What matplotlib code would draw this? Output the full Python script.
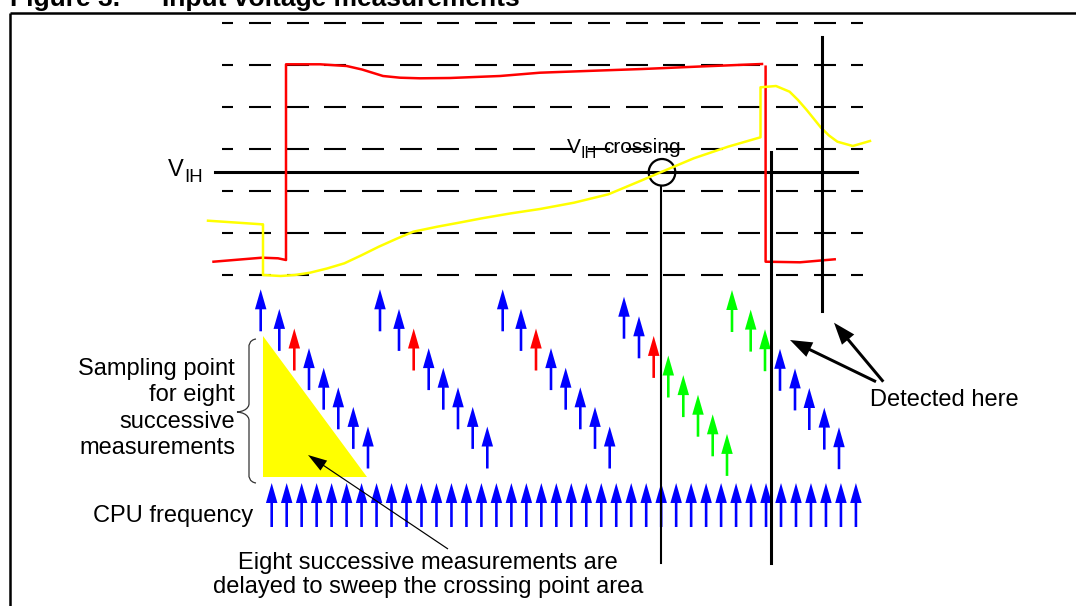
import matplotlib
matplotlib.use('Agg')
import matplotlib.pyplot as plt
import matplotlib.patches as patches
from matplotlib.path import Path
import numpy as np

plt.rcParams['font.family'] = ['Liberation Sans', 'DejaVu Sans']

# level grid (dashed) and the V_IH threshold, in picture pixels
grid_levels = [23, 65, 107, 149, 191, 233, 275]
vih_level = 171.5

# red signal (clean input) and yellow signal (slow input)
red_x = [213.5, 240, 262, 278, 286, 286, 320, 346.7, 362, 383, 400, 420, 450, 500,
         540, 600, 642.6, 700, 762]
red_y = [261.7, 259.5, 257.7, 258.3, 260, 64.3, 64.3, 66, 69.5, 76, 77.7, 78.3, 78,
         76, 72.7, 70.5, 69, 66.5, 64]
red2_x = [765.6, 765.6, 800, 834.7]
red2_y = [66.7, 261.7, 262.3, 259.3]

yel_x = [208, 235, 261.7, 263, 263, 280.6, 295, 310, 327, 344.4, 361, 378.8, 396,
         413.2, 437.3, 460, 482, 510, 540, 574, 608.4, 642.6, 662, 693.8, 728,
         760.5, 760.5, 776, 789.6, 798, 806.7, 814, 821, 829, 837.4, 852.8, 870]
yel_y = [220.7, 222.5, 224.3, 224.3, 275, 276, 275, 272.7, 268.5, 263.3, 255.5,
         246.7, 239, 231.7, 226.7, 222.5, 218.3, 213.5, 209, 202.7, 194.3, 180,
         171.7, 158.3, 146.7, 137.3, 87.3, 86, 91.7, 100, 110, 119, 127.7, 135.5,
         141.7, 146, 141]

# sampling arrows: 5 groups of 8 successive measurements
group_x = [
    [260.7, 279.3, 294.3, 309, 323.7, 338.3, 353.3, 368],
    [380, 399, 413.7, 428.7, 443.3, 458, 472.7, 487.3],
    [502.7, 521, 536, 551, 565.7, 580.3, 595, 609.7],
    [624, 639, 653.7, 668.3, 683.3, 698, 712.7, 727],
    [732, 750.7, 765, 780, 795, 809.3, 824.3, 839],
]
group_top = [289.3, 289.3, 289.3, 296.7, 290]
group_col = [
    ['b', 'b', 'r', 'b', 'b', 'b', 'b', 'b'],
    ['b', 'b', 'r', 'b', 'b', 'b', 'b', 'b'],
    ['b', 'b', 'r', 'b', 'b', 'b', 'b', 'b'],
    ['b', 'b', 'r', 'g', 'g', 'g', 'g', 'g'],
    ['g', 'g', 'g', 'b', 'b', 'b', 'b', 'b'],
]
colmap = {'b': '#0000FF', 'r': '#FF0000', 'g': '#00FF00'}

# CPU clock arrows
n_clock = 40
clock_x0 = 271.7
clock_step = 14.98

left_lines = ['Sampling point', 'for eight', 'successive', 'measurements']
bottom_lines = ['Eight successive measurements are',
                'delayed to sweep the crossing point area']

fig = plt.figure(figsize=(10.76, 6.06), dpi=100)
ax = fig.add_axes([0, 0, 1, 1])
ax.set_xlim(0, 1076)
ax.set_ylim(606, 0)
ax.axis('off')

# title (cut off at top) and frame
ax.text(10, 6, 'Figure 3.', fontsize=19, fontweight='bold', va='baseline')
ax.text(162, 6, 'Input voltage measurements', fontsize=19, fontweight='bold',
        va='baseline')
ax.plot([10, 1076], [13.3, 13.3], color='k', lw=1.8, solid_capstyle='butt')
ax.plot([10, 10], [13.3, 606], color='k', lw=1.8, solid_capstyle='butt')

# dashed grid
starts = np.arange(249 - 37.65, 870, 37.65)
for yv in grid_levels:
    for s in starts:
        a, b = max(s, 222), min(s + 22, 863)
        if b > a:
            ax.plot([a, b], [yv, yv], color='k', lw=1.5, solid_capstyle='butt')

ax.plot([215, 857], [vih_level, vih_level], color='k', lw=2.2)
ax.text(168, 176, 'V', fontsize=17, va='baseline')
ax.text(184.5, 181.7, 'IH', fontsize=13.4, va='baseline')

# signals
ax.plot(red_x, red_y, color='#FF0000', lw=1.8)
ax.plot(red2_x, red2_y, color='#FF0000', lw=1.8)
ax.plot(yel_x, yel_y, color='#FFFF00', lw=1.8)

# crossing marker and label
ax.add_patch(patches.Circle((662, 172.3), 13.3, fill=False, ec='k', lw=1.6))
ax.text(566.7, 152.7, 'V', fontsize=15, va='baseline')
ax.text(580.5, 158.3, 'IH', fontsize=11.7, va='baseline')
ax.text(603, 152.7, 'crossing', fontsize=15, va='baseline')

# vertical markers
ax.plot([661, 661], [185.6, 563], color='k', lw=1.5)
ax.plot([771, 771], [152, 563], color='k', lw=2.2)
ax.plot([822, 822], [37, 311], color='k', lw=2.2)

# yellow triangle
ax.add_patch(patches.Polygon([(263, 336), (263, 477), (367, 477)],
                             closed=True, fc='#FFFF00', ec='none'))

# sampling arrows
alen = 42
for gx, gt, gc in zip(group_x, group_top, group_col):
    for k, (x, c) in enumerate(zip(gx, gc)):
        top = gt + 19.6 * k
        ax.arrow(x, top + alen, 0, -alen, width=2.6, head_width=11.5,
                 head_length=20, length_includes_head=True,
                 color=colmap[c], lw=0)

# CPU frequency arrows
for i in range(n_clock):
    x = clock_x0 + clock_step * i
    ax.arrow(x, 527, 0, -44, width=2.6, head_width=11.5, head_length=20,
             length_includes_head=True, color='#0000FF', lw=0)

# brace
verts = [(256, 339), (249, 340), (249, 346), (249, 346),
         (249, 404), (249, 404), (249, 411), (237, 412),
         (249, 413), (249, 420), (249, 420),
         (249, 476), (249, 476), (249, 482), (256, 483)]
codes = [Path.MOVETO, Path.CURVE4, Path.CURVE4, Path.CURVE4,
         Path.LINETO, Path.CURVE4, Path.CURVE4, Path.CURVE4,
         Path.CURVE4, Path.CURVE4, Path.CURVE4,
         Path.LINETO, Path.CURVE4, Path.CURVE4, Path.CURVE4]
ax.add_patch(patches.PathPatch(Path(verts, codes), fc='none', ec='#333333', lw=0.9))

# texts
for i, t in enumerate(left_lines):
    ax.text(235, 375 + 26.3 * i, t, fontsize=17, ha='right', va='baseline')
ax.text(253, 521.7, 'CPU frequency', fontsize=17, ha='right', va='baseline')
ax.text(870, 406, 'Detected here', fontsize=17, ha='left', va='baseline')
for i, t in enumerate(bottom_lines):
    ax.text(428, 568.5 + 24.5 * i, t, fontsize=17, ha='center', va='baseline')

# pointer arrows
ax.arrow(448, 549, 308 - 448, 455 - 549, width=1.2, head_width=12,
         head_length=19, length_includes_head=True, color='k', lw=0)
ax.arrow(876, 381.7, 790 - 876, 340 - 381.7, width=3, head_width=16,
         head_length=22, length_includes_head=True, color='k', lw=0)
ax.arrow(883.3, 381.7, 834 - 883.3, 322.7 - 381.7, width=3, head_width=16,
         head_length=22, length_includes_head=True, color='k', lw=0)

fig.savefig('out.png', dpi=100)
